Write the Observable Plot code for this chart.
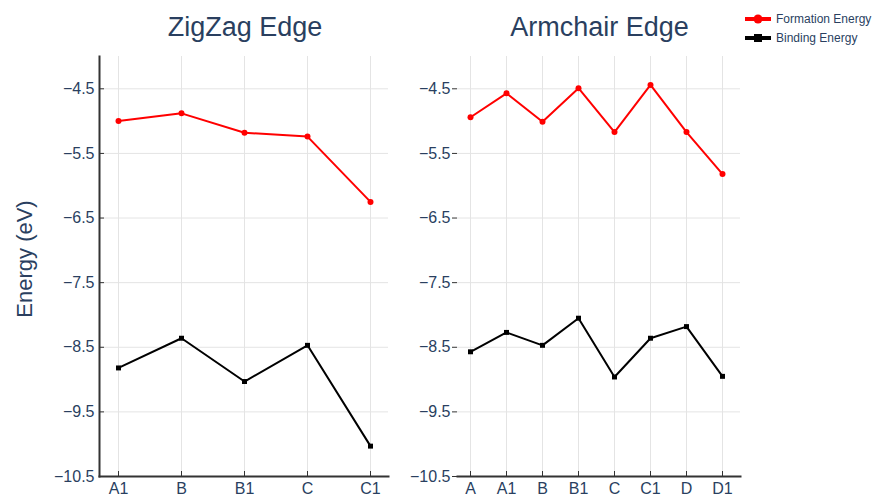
<!DOCTYPE html>
<html><head><meta charset="utf-8">
<script src="https://cdn.jsdelivr.net/npm/d3@7"></script>
<script src="https://cdn.jsdelivr.net/npm/@observablehq/plot@0.6"></script>
<style>
body{margin:0;background:#fff;}
#chart{position:relative;width:873px;height:499px;font-family:"Liberation Sans",Arial,sans-serif;color:#2a3f5f;}
#chart svg{position:absolute;top:0;overflow:visible;}
</style></head><body><div id="chart"></div>
<script>
const zigzagSites = ["A1","B","B1","C","C1"];
const zigzagFormation = [-5.00,-4.88,-5.18,-5.24,-6.25];
const zigzagBinding = [-8.82,-8.36,-9.03,-8.47,-10.03];
const armchairSites = ["A","A1","B","B1","C","C1","D","D1"];
const armchairFormation = [-4.94,-4.57,-5.01,-4.49,-5.17,-4.44,-5.17,-5.82];
const armchairBinding = [-8.57,-8.27,-8.47,-8.05,-8.96,-8.36,-8.18,-8.95];
const yTicks = [-4.5,-5.5,-6.5,-7.5,-8.5,-9.5,-10.5];
const yDomain = [-10.5,-4.0];
const panelTitles = ["ZigZag Edge","Armchair Edge"];
const yLabel = "Energy (eV)";
const seriesNames = ["Formation Energy","Binding Energy"];
const seriesColors = ["#ff0000","#000000"];

const fmt = d => (d < 0 ? "\u2212" : "") + Math.abs(d).toFixed(1);
const textColor = "#2a3f5f";
const gridColor = "#e4e4e4";
const lineColor = "#333";

function panel({sites, formation, binding, left, width, marginLeft, marginRight, padding, align, innerY}) {
  const rows = [];
  sites.forEach((s, i) => {
    rows.push({site: s, energy: formation[i], series: seriesNames[0]});
    rows.push({site: s, energy: binding[i], series: seriesNames[1]});
  });
  const form = rows.filter(d => d.series === seriesNames[0]);
  const bind = rows.filter(d => d.series === seriesNames[1]);
  const marks = [
    Plot.gridX({stroke: gridColor, strokeOpacity: 1}),
    Plot.gridY(yTicks, {stroke: gridColor, strokeOpacity: 1}),
    Plot.frame({anchor: "bottom", stroke: lineColor, strokeWidth: 2}),
    Plot.axisX({tickSize: -5, tickPadding: 11, stroke: lineColor, fill: textColor, fontSize: 16, label: null}),
    Plot.line(form, {x: "site", y: "energy", stroke: seriesColors[0], strokeWidth: 2}),
    Plot.dot(form, {x: "site", y: "energy", fill: seriesColors[0], r: 3, symbol: "circle"}),
    Plot.line(bind, {x: "site", y: "energy", stroke: seriesColors[1], strokeWidth: 2}),
    Plot.dot(bind, {x: "site", y: "energy", fill: seriesColors[1], r: 2.8, symbol: "square"})
  ];
  if (innerY) {
    marks.push(Plot.frame({anchor: "left", stroke: lineColor, strokeWidth: 2}));
    marks.push(Plot.axisY(yTicks, {tickSize: -5, tickPadding: 10, tickFormat: fmt, stroke: lineColor, fill: textColor, fontSize: 16, label: null}));
  } else {
    marks.push(Plot.axisY(yTicks, {tickSize: 5, tickPadding: 2, tickFormat: fmt, stroke: lineColor, fill: textColor, fontSize: 16, label: null}));
  }
  const svg = Plot.plot({
    width, height: 499,
    marginLeft, marginRight, marginTop: 56, marginBottom: 23,
    style: {fontFamily: '"Liberation Sans", Arial, sans-serif', background: "transparent", overflow: "visible"},
    x: {type: "point", domain: sites, padding, align, label: null},
    y: {domain: yDomain, label: null},
    marks
  });
  svg.style.left = left + "px";
  return svg;
}

const chart = document.getElementById("chart");
chart.appendChild(panel({sites: zigzagSites, formation: zigzagFormation, binding: zigzagBinding,
  left: 0, width: 400, marginLeft: 99, marginRight: 12, padding: 0.285, align: 0.5, innerY: true}));
chart.appendChild(panel({sites: armchairSites, formation: armchairFormation, binding: armchairBinding,
  left: 400, width: 473, marginLeft: 57, marginRight: 133, padding: 0.42, align: 0.43, innerY: false}));

// overlay: titles, y label, legend
const ns = "http://www.w3.org/2000/svg";
const ov = document.createElementNS(ns, "svg");
ov.setAttribute("width", 873); ov.setAttribute("height", 499);
ov.style.left = "0px"; ov.style.pointerEvents = "none";
ov.setAttribute("font-family", '"Liberation Sans", Arial, sans-serif');
function el(tag, attrs, text) {
  const e = document.createElementNS(ns, tag);
  for (const k in attrs) e.setAttribute(k, attrs[k]);
  if (text != null) e.textContent = text;
  ov.appendChild(e);
  return e;
}
el("text", {x: 245, y: 36, "text-anchor": "middle", "font-size": 27, fill: textColor}, panelTitles[0]);
el("text", {x: 599.5, y: 36, "text-anchor": "middle", "font-size": 27, fill: textColor}, panelTitles[1]);
el("text", {transform: "translate(32,259) rotate(-90)", "text-anchor": "middle", "font-size": 22, fill: textColor}, yLabel);
// legend
const ly = [19, 38];
el("line", {x1: 745, x2: 771, y1: ly[0], y2: ly[0], stroke: seriesColors[0], "stroke-width": 4});
el("circle", {cx: 758, cy: ly[0], r: 4.5, fill: seriesColors[0]});
el("text", {x: 776, y: ly[0] + 4, "font-size": 12, fill: textColor}, seriesNames[0]);
el("line", {x1: 745, x2: 771, y1: ly[1], y2: ly[1], stroke: seriesColors[1], "stroke-width": 4});
el("rect", {x: 754, y: ly[1] - 4, width: 8, height: 8, fill: seriesColors[1]});
el("text", {x: 776, y: ly[1] + 4, "font-size": 12, fill: textColor}, seriesNames[1]);
chart.appendChild(ov);
</script>
</body></html>
